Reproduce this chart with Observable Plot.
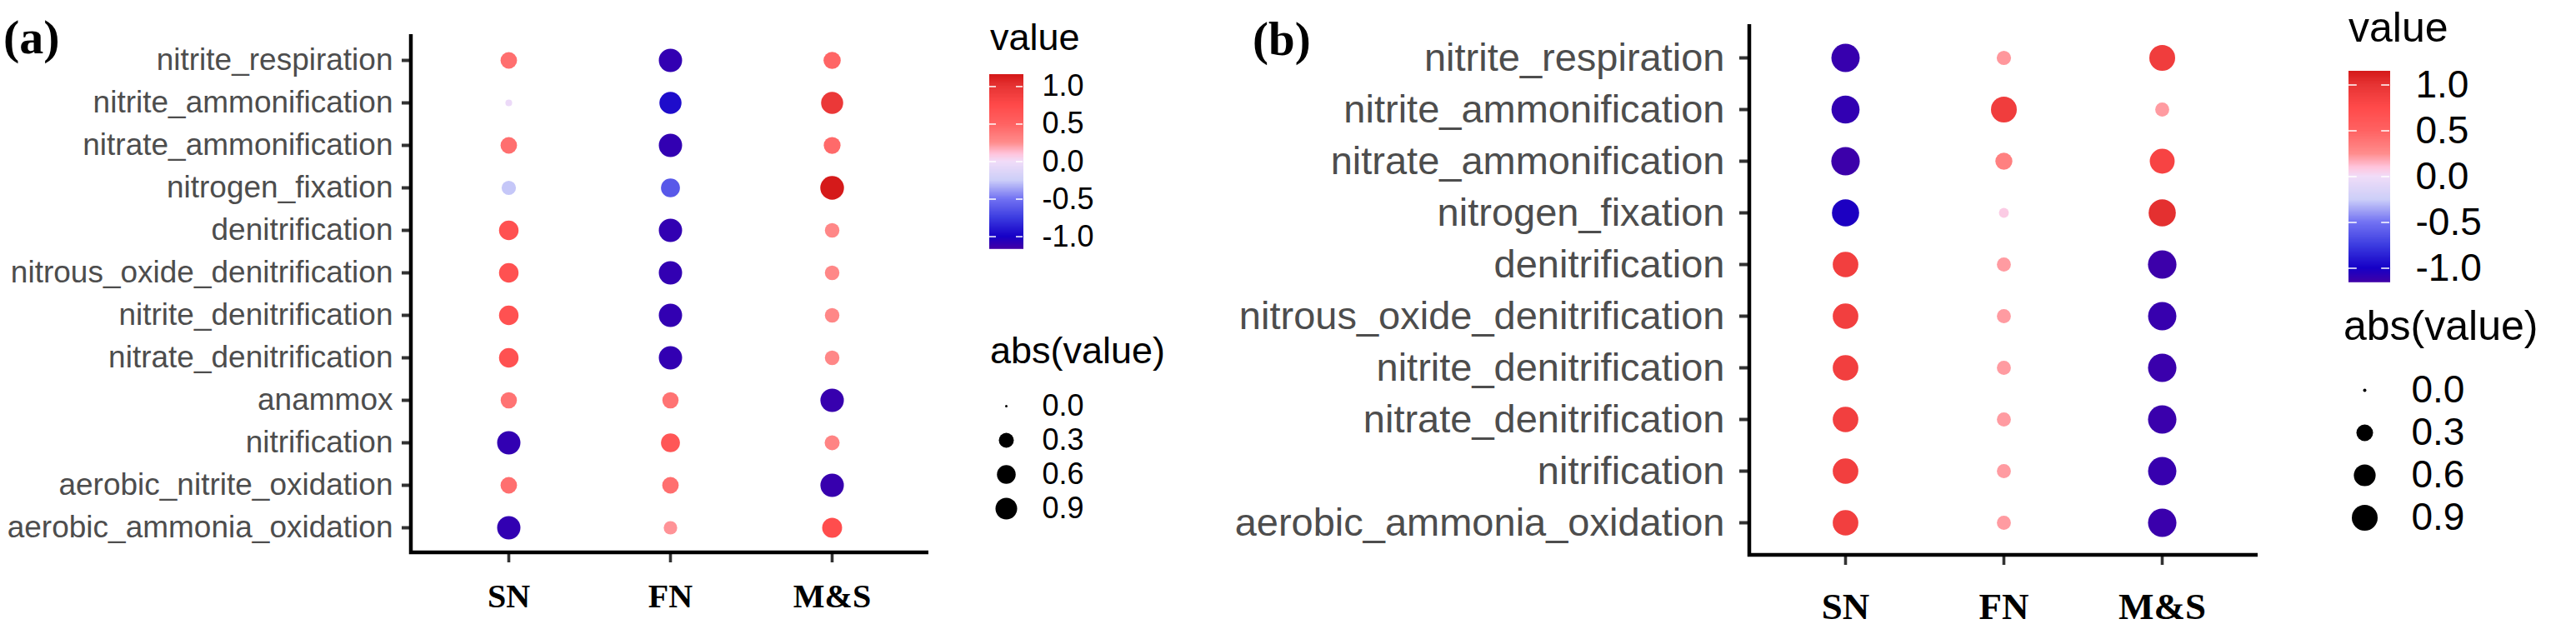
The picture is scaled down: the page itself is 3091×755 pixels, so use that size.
<!DOCTYPE html>
<html>
<head>
<meta charset="utf-8">
<script src="https://cdn.jsdelivr.net/npm/d3@7"></script>
<script src="https://cdn.jsdelivr.net/npm/@observablehq/plot@0.6"></script>
<style>
  body { margin: 0; background: #fff; }
  #root { position: relative; width: 3091px; height: 755px; overflow: hidden; background: #fff; }
  .abs { position: absolute; }
  .abs svg { display: block; overflow: visible; max-width: none; }
  g[aria-label="x-axis tick label"] text { font-family: "Liberation Serif", serif; font-weight: bold; }
</style>
</head>
<body>
<div id="root"></div>
<script>
// ---------------- data ----------------
const groups = ["SN", "FN", "M&S"];

const processesA = ["nitrite_respiration", "nitrite_ammonification", "nitrate_ammonification",
  "nitrogen_fixation", "denitrification", "nitrous_oxide_denitrification", "nitrite_denitrification",
  "nitrate_denitrification", "anammox", "nitrification", "aerobic_nitrite_oxidation",
  "aerobic_ammonia_oxidation"];
const snA = [0.42, -0.03, 0.42, -0.27, 0.68, 0.68, 0.68, 0.68, 0.40, -1.10, 0.42, -1.10];
const fnA = [-1.10, -0.95, -1.10, -0.62, -1.10, -1.10, -1.10, -1.10, 0.40, 0.62, 0.42, 0.23];
const msA = [0.48, 0.95, 0.45, 1.15, 0.28, 0.28, 0.28, 0.28, -1.12, 0.30, -1.12, 0.72];

const processesB = ["nitrite_respiration", "nitrite_ammonification", "nitrate_ammonification",
  "nitrogen_fixation", "denitrification", "nitrous_oxide_denitrification", "nitrite_denitrification",
  "nitrate_denitrification", "nitrification", "aerobic_ammonia_oxidation"];
const snB = [-1.12, -1.10, -1.14, -1.02, 0.88, 0.88, 0.88, 0.88, 0.88, 0.88];
const fnB = [0.22, 0.90, 0.32, 0.07, 0.21, 0.21, 0.21, 0.21, 0.21, 0.21];
const msB = [0.90, 0.21, 0.83, 1.02, -1.14, -1.12, -1.13, -1.13, -1.12, -1.13];

const colorBreaks = [-1, -0.5, 0, 0.5, 1];
const sizeBreaks = [0, 0.3, 0.6, 0.9];

// colour ramp
const colorDomain = [-1.16, -1.0, -0.75, -0.5, -0.25, 0, 0.1, 0.25, 0.5, 0.75, 1.0, 1.16];
const colorRange = ["#4200a6", "#1600c6", "#3c3ce0", "#7272f2", "#cccef8", "#f0dcf8",
  "#ffc4dc", "#ff8c8c", "#ff6262", "#ff4a4a", "#e63434", "#d41818"];
const colorScale = {type: "linear", domain: colorDomain, range: colorRange, interpolate: "rgb"};

// size scales (radius, px) for |value|
const rDomain = [0, 0.05, 0.3, 0.6, 0.9, 1.2];
const rRangeA = [1.5, 5.77, 9, 11.25, 13, 14.45];
const rRangeB = [2, 5.55, 10, 13.1, 15.5, 17.5];

// ---------------- helpers ----------------
const root = document.getElementById("root");
function place(node, left, top) {
  const d = document.createElement("div");
  d.className = "abs";
  d.style.left = left + "px";
  d.style.top = top + "px";
  d.appendChild(node);
  root.appendChild(d);
}

function axisLines(index, scales, values, dims) {
  const {width, height, marginLeft, marginRight, marginTop, marginBottom} = dims;
  const p = document.createElementNS("http://www.w3.org/2000/svg", "path");
  p.setAttribute("d", `M${marginLeft},${marginTop}V${height - marginBottom}H${width - marginRight}`);
  p.setAttribute("fill", "none");
  p.setAttribute("stroke", "#000");
  p.setAttribute("stroke-width", 4.5);
  p.setAttribute("stroke-linejoin", "miter");
  return p;
}

function panel(processes, sn, fn, ms, c) {
  const data = [];
  processes.forEach((p, i) => {
    data.push({proc: p, grp: "SN", value: sn[i]});
    data.push({proc: p, grp: "FN", value: fn[i]});
    data.push({proc: p, grp: "M&S", value: ms[i]});
  });
  return Plot.plot({
    width: c.width, height: 755,
    marginLeft: c.ml, marginRight: c.mr, marginTop: c.mt, marginBottom: c.mb,
    style: {fontFamily: "Liberation Sans", background: "transparent", overflow: "visible", maxWidth: "none"},
    x: {type: "point", domain: groups, padding: 0.6},
    y: {type: "point", domain: processes, padding: c.ypad},
    r: {type: "linear", domain: rDomain, range: c.rRange},
    color: colorScale,
    marks: [
      Plot.axisY({tickSize: c.ytick, tickPadding: c.ytp, fontSize: c.yfs, fill: "#4d4d4d",
        stroke: "#333333", strokeWidth: 4, label: null}),
      Plot.axisX({tickSize: 12, tickPadding: c.xtp, fontSize: c.xfs, fontFamily: "Liberation Serif",
        fontWeight: "bold", fill: "#000", stroke: "#333333", strokeWidth: 3.6, label: null}),
      axisLines,
      Plot.dot(data, {x: "grp", y: "proc", r: d => Math.abs(d.value), fill: "value"})
    ]
  });
}

function colorLegend(lim, frameW, frameH, pad, fs) {
  const ramp = d3.range(-lim, lim, 0.005);
  return Plot.plot({
    width: frameW + 140, height: frameH + 40,
    marginLeft: 0, marginRight: 140, marginTop: 20, marginBottom: 20,
    style: {fontFamily: "Liberation Sans", background: "transparent", overflow: "visible", maxWidth: "none"},
    x: {domain: [0, 1], axis: null},
    y: {domain: [-lim, lim], axis: null},
    color: colorScale,
    marks: [
      Plot.rect(ramp, {x1: 0, x2: 1, y1: d => d, y2: d => Math.min(lim, d + 0.006),
        fill: d => d, stroke: d => d, strokeWidth: 0.8, shapeRendering: "crispEdges"}),
      Plot.ruleY(colorBreaks, {x1: 0, x2: 0.2, stroke: "white", strokeWidth: 1.5}),
      Plot.ruleY(colorBreaks, {x1: 0.8, x2: 1, stroke: "white", strokeWidth: 1.5}),
      Plot.axisY({anchor: "right", ticks: colorBreaks, tickSize: 0, tickPadding: pad, fontSize: fs,
        fill: "#000", tickFormat: d => d.toFixed(1), label: null})
    ]
  });
}

function sizeLegend(rRange, frameW, frameH, pad, fs) {
  return Plot.plot({
    width: frameW + 140, height: frameH + 20,
    marginLeft: 0, marginRight: 140, marginTop: 10, marginBottom: 10,
    style: {fontFamily: "Liberation Sans", background: "transparent", overflow: "visible", maxWidth: "none"},
    y: {type: "point", domain: sizeBreaks.map(d => d.toFixed(1)), padding: 0.5, axis: null},
    r: {type: "linear", domain: rDomain, range: rRange},
    marks: [
      Plot.dot(sizeBreaks, {y: d => d.toFixed(1), r: d => d, fill: "black"}),
      Plot.axisY({anchor: "right", tickSize: 0, tickPadding: pad, fontSize: fs, fill: "#000", label: null})
    ]
  });
}

// ---------------- panel (a) ----------------
place(panel(processesA, snA, fnA, msA, {
  width: 1140, ml: 493, mr: 26, mt: 41, mb: 92, ypad: 0.55,
  ytick: 11, ytp: 11, yfs: 37, xtp: 25, xfs: 40, rRange: rRangeA
}), 0, 0);
place(colorLegend(1.16, 40, 209, 23, 36), 1187, 69);
place(sizeLegend(rRangeA, 40, 167, 23, 36), 1187, 455);

// ---------------- panel (b) ----------------
place(panel(processesB, snB, fnB, msB, {
  width: 1300, ml: 659, mr: 31, mt: 29, mb: 89, ypad: 0.58,
  ytick: 12, ytp: 18, yfs: 47, xtp: 33, xfs: 45, rRange: rRangeB
}), 1440, 0);
place(colorLegend(1.15, 49, 253, 31, 46), 2818, 65);
place(sizeLegend(rRangeB, 38, 205, 37, 46), 2818, 432);

// ---------------- titles ----------------
const svg = d3.select(root).append("svg")
  .attr("width", 3091).attr("height", 755)
  .style("position", "absolute").style("left", 0).style("top", 0).style("pointer-events", "none");
const texts = [
  {t: "(a)", x: 4, y: 64, fs: 58, ff: "Liberation Serif", fw: "bold"},
  {t: "(b)", x: 1503, y: 66, fs: 57, ff: "Liberation Serif", fw: "bold"},
  {t: "value", x: 1188, y: 60, fs: 45, ff: "Liberation Sans", fw: "normal"},
  {t: "abs(value)", x: 1188, y: 436, fs: 45, ff: "Liberation Sans", fw: "normal"},
  {t: "value", x: 2818, y: 50, fs: 50, ff: "Liberation Sans", fw: "normal"},
  {t: "abs(value)", x: 2812, y: 408, fs: 50, ff: "Liberation Sans", fw: "normal"}
];
svg.selectAll("text").data(texts).join("text")
  .attr("x", d => d.x).attr("y", d => d.y)
  .attr("font-size", d => d.fs).attr("font-family", d => d.ff).attr("font-weight", d => d.fw)
  .attr("fill", "#000").text(d => d.t);
</script>
</body>
</html>
